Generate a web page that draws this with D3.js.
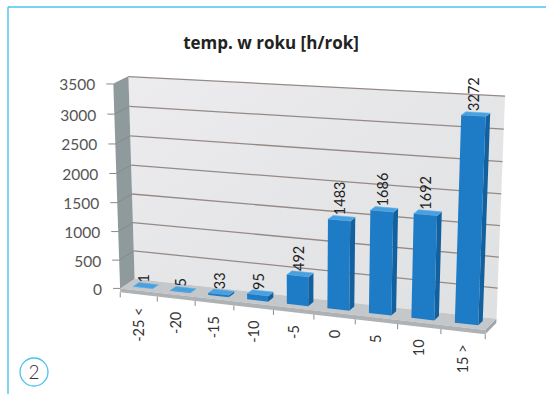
<!DOCTYPE html>
<html>
<head>
<meta charset="utf-8">
<script src="https://cdn.jsdelivr.net/npm/d3@7"></script>
<style>
  html, body { margin: 0; padding: 0; background: #fff; }
  svg { display: block; }
</style>
</head>
<body>
<svg id="chart" width="546" height="394"></svg>
<script>
// ---- data ----
const categories = ["-25 <", "-20", "-15", "-10", "-5", "0", "5", "10", "15 >"];
const hours = [1, 5, 33, 95, 492, 1483, 1686, 1692, 3272];
const valueTicks = [0, 500, 1000, 1500, 2000, 2500, 3000, 3500];
const chartTitle = "temp. w roku [h/rok]";
const figureNumber = "2";

// ---- setup ----
const svg = d3.select("#chart");
const n = categories.length;
const yMax = 3500;
const FONT = "Lato, 'Open Sans', sans-serif";
const TITLE_FONT = "'Open Sans', Lato, sans-serif";

// world space: x = category slot (0..n), y = hours/100, z = depth (0 front, 1 back wall)
const xBand = d3.scaleBand().domain(categories).range([0, n])
  .paddingInner(0.47).paddingOuter(0.235);
const yWorld = d3.scaleLinear().domain([0, yMax]).range([0, yMax / 100]);
const yTop = yWorld(yMax);
const slab = yWorld(70);          // floor thickness
const barZ = [0.3, 0.7];          // bar depth inside the floor

// screen positions of a few box corners; a perspective camera is fitted to them
const anchors = [
  [[0, yTop, 1], [130, 77]],
  [[n, yTop, 1], [505, 95]],
  [[0, 0, 1], [133, 281]],
  [[n, 0, 1], [497, 316]],
  [[0, 0, 0], [119, 288]],
  [[n, 0, 0], [484, 331]],
  [[0, yTop, 0], [112, 84]],
  [[0, yWorld(2000), 1], [131, 165]],
  [[n, yWorld(2000), 1], [501, 195]],
  [[1, 0, 0], [160, 290]],
  [[8, 0, 0], [442, 327]]
];

function solveProjection(pairs) {
  const A = [], b = [];
  pairs.forEach(([[X, Y, Z], [u, v]]) => {
    A.push([X, Y, Z, 1, 0, 0, 0, 0, -u * X, -u * Y, -u * Z]); b.push(u);
    A.push([0, 0, 0, 0, X, Y, Z, 1, -v * X, -v * Y, -v * Z]); b.push(v);
  });
  const m = 11;
  const N = Array.from({ length: m }, () => new Array(m + 1).fill(0));
  A.forEach((r, k) => {
    for (let i = 0; i < m; i++) {
      for (let j = 0; j < m; j++) N[i][j] += r[i] * r[j];
      N[i][m] += r[i] * b[k];
    }
  });
  for (let c = 0; c < m; c++) {
    let piv = c;
    for (let r = c + 1; r < m; r++) if (Math.abs(N[r][c]) > Math.abs(N[piv][c])) piv = r;
    [N[c], N[piv]] = [N[piv], N[c]];
    for (let r = 0; r < m; r++) {
      if (r === c) continue;
      const f = N[r][c] / N[c][c];
      for (let j = c; j <= m; j++) N[r][j] -= f * N[c][j];
    }
  }
  return N.map((row, i) => row[m] / row[i]);
}
const P = solveProjection(anchors);
function proj(x, y, z) {
  const w = P[8] * x + P[9] * y + P[10] * z + 1;
  return [(P[0] * x + P[1] * y + P[2] * z + P[3]) / w,
          (P[4] * x + P[5] * y + P[6] * z + P[7]) / w];
}
const poly = pts => "M" + pts.map(p => proj(...p).map(v => v.toFixed(2)).join(",")).join("L") + "Z";

// ---- frame and figure number ----
const frameColor = "#4cc2ef";
svg.append("line").attr("x1", 8).attr("y1", 7).attr("x2", 546).attr("y2", 7)
  .attr("stroke", frameColor).attr("stroke-width", 1.4);
svg.append("line").attr("x1", 8).attr("y1", 7).attr("x2", 8).attr("y2", 394)
  .attr("stroke", frameColor).attr("stroke-width", 1.4);
svg.append("circle").attr("cx", 34).attr("cy", 372).attr("r", 14)
  .attr("fill", "none").attr("stroke", frameColor).attr("stroke-width", 1.3);
svg.append("text").attr("x", 34).attr("y", 379).attr("text-anchor", "middle")
  .attr("font-family", FONT).attr("font-size", 19).attr("font-weight", 300)
  .attr("fill", "#333").text(figureNumber);

// ---- title ----
svg.append("text").attr("x", 271).attr("y", 49).attr("text-anchor", "middle")
  .attr("font-family", TITLE_FONT).attr("font-size", 17).attr("font-weight", 700)
  .attr("fill", "#222").text(chartTitle);

// ---- walls ----
const defs = svg.append("defs");
const g1 = defs.append("linearGradient").attr("id", "wallGrad").attr("x1", 0).attr("y1", 0).attr("x2", 1).attr("y2", 1);
g1.append("stop").attr("offset", "0%").attr("stop-color", "#ececee");
g1.append("stop").attr("offset", "100%").attr("stop-color", "#dfe0e2");

const scene = svg.append("g");
scene.append("path").attr("d", poly([[0, 0, 1], [n, 0, 1], [n, yTop, 1], [0, yTop, 1]]))
  .attr("fill", "url(#wallGrad)");
scene.append("path").attr("d", poly([[0, 0, 0], [0, 0, 1], [0, yTop, 1], [0, yTop, 0]]))
  .attr("fill", "#8f9a9d");

// gridlines on back wall and side wall
valueTicks.forEach(v => {
  const y = yWorld(v);
  scene.append("path").attr("d", "M" + proj(0, y, 0).join(",") + "L" + proj(0, y, 1).join(","))
    .attr("stroke", "#7d7774").attr("stroke-width", 1).attr("fill", "none").attr("opacity", 0.5);
  if (v > 0) {
    scene.append("path").attr("d", "M" + proj(0, y, 1).join(",") + "L" + proj(n, y, 1).join(","))
      .attr("stroke", "#958a85").attr("stroke-width", 1.3).attr("fill", "none");
  }
});

// ---- floor slab ----
scene.append("path").attr("d", poly([[0, 0, 0], [n, 0, 0], [n, 0, 1], [0, 0, 1]])).attr("fill", "#c5c8ca");
scene.append("path").attr("d", poly([[0, -slab, 0], [n, -slab, 0], [n, 0, 0], [0, 0, 0]])).attr("fill", "#aeb2b5");
scene.append("path").attr("d", poly([[n, -slab, 0], [n, -slab, 1], [n, 0, 1], [n, 0, 0]])).attr("fill", "#9ea4a7");

// ---- value axis ----
valueTicks.forEach(v => {
  const [sx, sy] = proj(0, yWorld(v), 0);
  scene.append("line").attr("x1", sx - 7).attr("x2", sx).attr("y1", sy).attr("y2", sy)
    .attr("stroke", "#8a8a8a").attr("stroke-width", 1);
  scene.append("text").attr("x", sx - 18).attr("y", sy + 1).attr("dy", "0.35em")
    .attr("text-anchor", "end").attr("font-family", FONT).attr("font-size", 15.5)
    .attr("fill", "#555").text(v);
});

// ---- category axis ----
d3.range(n + 1).forEach(i => {
  const [sx, sy] = proj(i, -slab, 0);
  scene.append("line").attr("x1", sx).attr("x2", sx).attr("y1", sy).attr("y2", sy + 5)
    .attr("stroke", "#8a8a8a").attr("stroke-width", 1);
});
categories.forEach(c => {
  const cx = xBand(c) + xBand.bandwidth() / 2;
  const [sx, sy] = proj(cx, 0, 0);
  scene.append("text").attr("transform", `translate(${sx},${sy + 17}) rotate(-90)`)
    .attr("dy", "0.35em").attr("text-anchor", "end").attr("font-family", FONT)
    .attr("font-size", 14.5).attr("fill", "#333").text(c);
});

// ---- bars ----
const barFront = "#1e7cc6", barSide = "#13609e", barTop = "#4aa0df";
categories.forEach((c, i) => {
  const x0 = xBand(c), x1 = x0 + xBand.bandwidth();
  const h = yWorld(hours[i]);
  const [z0, z1] = barZ;
  const g = scene.append("g");
  g.append("path").attr("d", poly([[x1, 0, z0], [x1, 0, z1], [x1, h, z1], [x1, h, z0]])).attr("fill", barSide);
  g.append("path").attr("d", poly([[x0, h, z0], [x1, h, z0], [x1, h, z1], [x0, h, z1]]))
    .attr("fill", barTop).attr("stroke", "#5fb0ea").attr("stroke-width", 0.6);
  g.append("path").attr("d", poly([[x0, 0, z0], [x1, 0, z0], [x1, h, z0], [x0, h, z0]])).attr("fill", barFront);
});

// ---- value labels ----
categories.forEach((c, i) => {
  const cx = xBand(c) + xBand.bandwidth() / 2;
  const h = yWorld(hours[i]);
  const [sx, sy] = proj(cx, h, barZ[0]);
  scene.append("text").attr("transform", `translate(${sx + 1},${sy - 5}) rotate(-90)`)
    .attr("dy", "0.35em").attr("text-anchor", "start").attr("font-family", FONT)
    .attr("font-size", 14.5).attr("fill", "#222").text(hours[i]);
});
</script>
</body>
</html>
